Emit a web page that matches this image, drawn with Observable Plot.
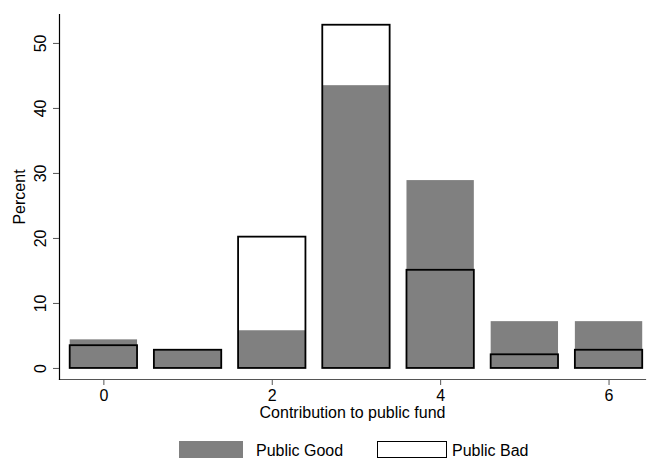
<!DOCTYPE html>
<html>
<head>
<meta charset="utf-8">
<script src="https://cdn.jsdelivr.net/npm/d3@7"></script>
<script src="https://cdn.jsdelivr.net/npm/@observablehq/plot@0.6"></script>
<style>
  body { margin: 0; background: #fff; font-family: "Liberation Sans", Arial, sans-serif; }
  #legend { position: relative; width: 651px; height: 27px; font-size: 16px; color: #000; }
  #legend .sw { position: absolute; top: 9px; height: 17px; box-sizing: border-box; }
  #legend .lab { position: absolute; top: 10px; line-height: 18px; }
</style>
</head>
<body>
<div id="chart"></div>
<div id="legend">
  <div class="sw" style="left:179px;width:64px;background:#808080;"></div>
  <div class="lab" style="left:256px;">Public Good</div>
  <div class="sw" style="left:377px;width:70px;border:1.5px solid #000;background:#fff;"></div>
  <div class="lab" style="left:452px;">Public Bad</div>
</div>
<script>
const contributions = [0, 1, 2, 3, 4, 5, 6];
const publicGood = [4.4, 2.8, 5.8, 43.5, 28.9, 7.2, 7.2];
const publicBad = [3.5, 2.8, 20.2, 52.8, 15.1, 2.1, 2.8];
const xTicks = [0, 2, 4, 6];
const yTicks = [0, 10, 20, 30, 40, 50];

const good = contributions.map((c, i) => ({x: c, v: publicGood[i]}));
const bad = contributions.map((c, i) => ({x: c, v: publicBad[i]}));
const half = 0.4;

const chart = Plot.plot({
  width: 651,
  height: 432,
  marginLeft: 59,
  marginRight: 6,
  marginTop: 14,
  marginBottom: 53,
  style: {fontFamily: "'Liberation Sans', Arial, sans-serif", fontSize: "16px", color: "#000", background: "#fff"},
  x: {domain: [-0.527, 6.433]},
  y: {domain: [-1.7, 54.45]},
  marks: [
    Plot.rectY(good, {x1: d => d.x - half, x2: d => d.x + half, y1: 0, y2: "v", fill: "#808080"}),
    Plot.rectY(bad, {x1: d => d.x - half, x2: d => d.x + half, y1: 0, y2: "v", fill: "none", stroke: "#000", strokeWidth: 1.8}),
    Plot.frame({anchor: "bottom", stroke: "#555", strokeWidth: 1.2}),
    Plot.frame({anchor: "left", stroke: "#000", strokeWidth: 1.2}),
    Plot.axisX({ticks: xTicks, tickFormat: d3.format("d"), tickSize: 6, tickPadding: 4, stroke: "#555", label: "Contribution to public fund", labelAnchor: "center", labelArrow: "none", labelOffset: 38, fontSize: 16}),
    Plot.axisY({ticks: yTicks, tickFormat: d3.format("d"), tickSize: 6, tickPadding: 8, tickRotate: -90, stroke: "#555", label: "Percent", labelAnchor: "center", labelArrow: "none", labelOffset: 46, fontSize: 16})
  ]
});
document.getElementById("chart").appendChild(chart);
</script>
</body>
</html>
